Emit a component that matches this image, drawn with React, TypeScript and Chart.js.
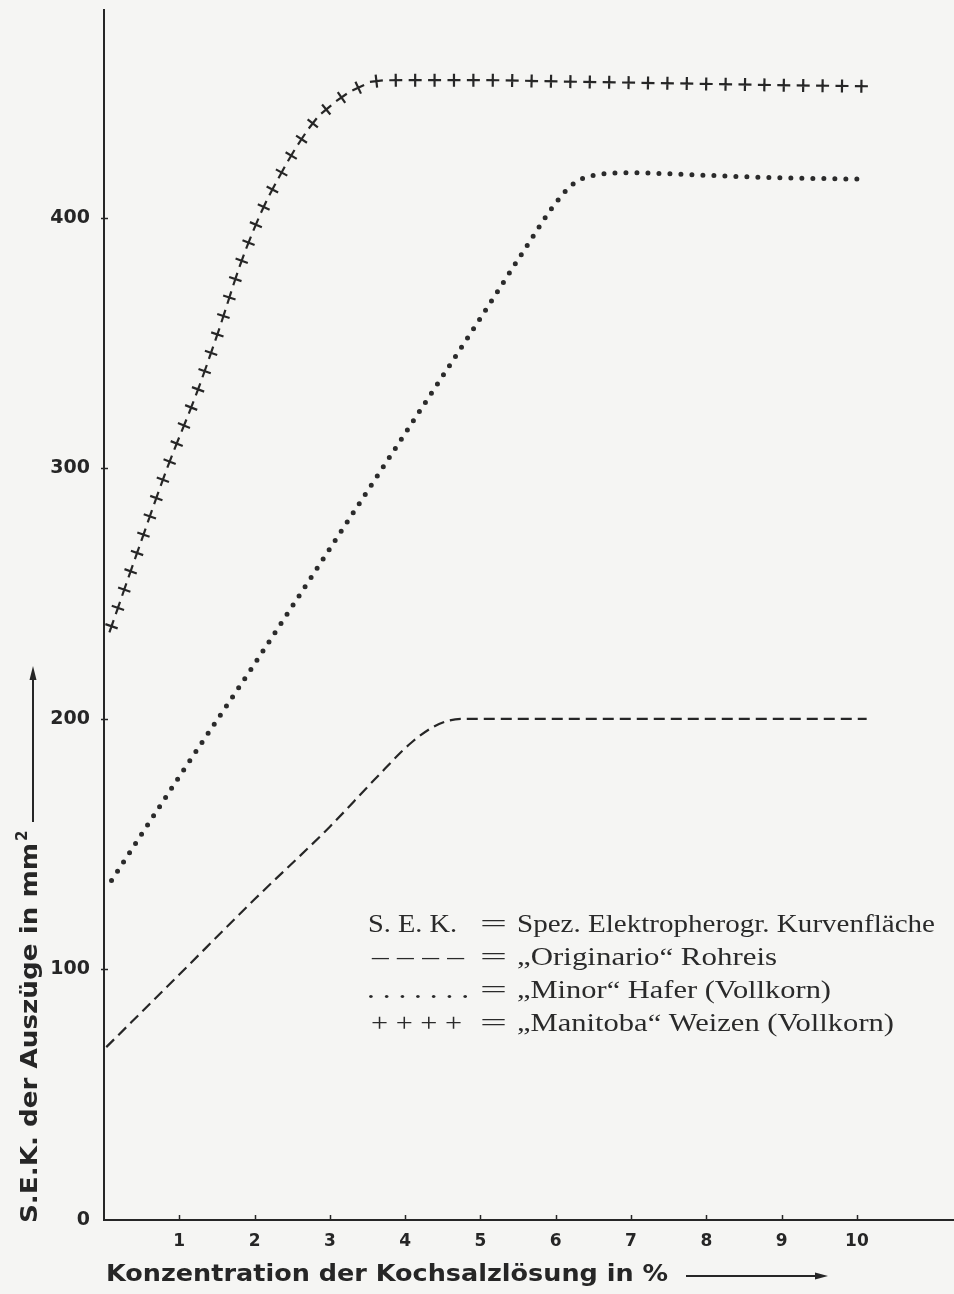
import React, { useEffect, useRef } from 'react';
import Chart from 'chart.js/auto';

// ---- data ----
const xTickLabels = ['1', '2', '3', '4', '5', '6', '7', '8', '9', '10'];
const yTickValues = [0, 100, 200, 300, 400];

const rohreisX = [0.03, 1, 2, 3, 3.6, 4.1, 4.45, 4.75, 6, 8, 10.13];
const rohreisY = [69, 98, 128, 157, 176, 191, 198, 200, 200, 200, 200];

const haferX = [0.1, 1, 2, 3, 4, 5, 5.6, 6.0, 6.25, 6.5, 7, 8, 9, 10.04];
const haferY = [135.5, 177, 222, 268, 314, 360, 388, 406, 414, 417, 418, 417, 416, 415.5];

const manitobaX = [0.1, 0.43, 0.85, 1.23, 1.5, 1.83, 2.1, 2.32, 2.55, 2.82, 3.0, 3.2, 3.4, 3.62, 4, 5, 6, 7, 8, 9, 10.06];
const manitobaY = [237, 265.5, 301, 330, 353, 383, 403, 416, 428, 439.5, 444.5, 449, 452.3, 454.6, 455, 455, 454.5, 454, 453.5, 453, 452.6];

const legendRows = [
  { key: 'S. E. K.', text: 'Spez. Elektropherogr. Kurvenfläche' },
  { key: '– – – –', text: '„Originario“ Rohreis' },
  { key: '. . . . . . .', text: '„Minor“ Hafer (Vollkorn)' },
  { key: '+ + + +', text: '„Manitoba“ Weizen (Vollkorn)' },
];

const xTitle = 'Konzentration der Kochsalzlösung in %';
const yTitle = 'S.E.K. der Auszüge in mm';
const yTitleSup = '2';

const INK = '#262626';
const BG = '#f5f5f3';

const toPoints = (xs: number[], ys: number[]) => xs.map((x, i) => ({ x, y: ys[i] }));

function fitText(ctx: any, text: string, x: number, y: number, targetW: number) {
  const w = ctx.measureText(text).width || 1;
  const s = targetW / w;
  ctx.save();
  ctx.translate(x, y);
  ctx.scale(s, 1);
  ctx.textAlign = 'left';
  ctx.fillText(text, 0, 0);
  ctx.restore();
}

const bgPlugin = {
  id: 'bg',
  beforeDraw(chart: any) {
    const ctx = chart.ctx;
    ctx.save();
    ctx.fillStyle = BG;
    ctx.fillRect(0, 0, chart.width, chart.height);
    ctx.restore();
  },
};

const plusPlugin = {
  id: 'plusMarkers',
  afterDatasetsDraw(chart: any) {
    const ctx = chart.ctx;
    chart.data.datasets.forEach((ds: any, di: number) => {
      if (!ds.plusMarker) return;
      const meta = chart.getDatasetMeta(di);
      const line = meta.dataset;
      if (line && line.updateControlPoints) line.updateControlPoints(chart.chartArea, 'x');
      const pts = meta.data;
      const samples: number[][] = [];
      for (let k = 0; k < pts.length - 1; k++) {
        const a = pts[k], b = pts[k + 1];
        const p0x = a.x, p0y = a.y, p3x = b.x, p3y = b.y;
        const p1x = a.cp2x ?? a.x, p1y = a.cp2y ?? a.y;
        const p2x = b.cp1x ?? b.x, p2y = b.cp1y ?? b.y;
        const N = 40;
        for (let j = k === 0 ? 0 : 1; j <= N; j++) {
          const t = j / N, u = 1 - t;
          const x = u * u * u * p0x + 3 * u * u * t * p1x + 3 * u * t * t * p2x + t * t * t * p3x;
          const y = u * u * u * p0y + 3 * u * u * t * p1y + 3 * u * t * t * p2y + t * t * t * p3y;
          samples.push([x, y]);
        }
      }
      let total = 0;
      for (let i = 0; i < samples.length - 1; i++) {
        total += Math.hypot(samples[i + 1][0] - samples[i][0], samples[i + 1][1] - samples[i][1]);
      }
      const nominal = ds.plusSpacing || 19.5;
      const spacing = total / Math.max(1, Math.round(total / nominal));
      const h = ds.plusHalf || 6;
      ctx.save();
      ctx.strokeStyle = ds.plusColor || INK;
      ctx.lineWidth = ds.plusWidth || 2;
      ctx.lineCap = 'butt';
      let acc = 0;
      let next = 0;
      for (let i = 0; i < samples.length - 1; i++) {
        const [x0, y0] = samples[i];
        const [x1, y1] = samples[i + 1];
        const dx = x1 - x0, dy = y1 - y0;
        const L = Math.hypot(dx, dy);
        if (L === 0) continue;
        while (next <= acc + L + 0.01) {
          const t = Math.min(1, (next - acc) / L);
          const px = x0 + dx * t, py = y0 + dy * t;
          const ang = Math.atan2(dy, dx);
          ctx.save();
          ctx.translate(px, py);
          ctx.rotate(ang);
          ctx.beginPath();
          ctx.moveTo(-h, 0);
          ctx.lineTo(h, 0);
          ctx.moveTo(0, -h);
          ctx.lineTo(0, h);
          ctx.stroke();
          ctx.restore();
          next += spacing;
        }
        acc += L;
      }
      ctx.restore();
    });
  },
};

const decorPlugin = {
  id: 'decor',
  afterDraw(chart: any) {
    const ctx = chart.ctx;
    const area = chart.chartArea;
    const xs = chart.scales.x;
    const ys = chart.scales.y;
    ctx.save();
    ctx.strokeStyle = INK;
    ctx.fillStyle = INK;

    // small tick marks
    ctx.lineWidth = 1.5;
    xTickLabels.forEach((lab) => {
      const px = Math.round(xs.getPixelForValue(Number(lab))) + 0.5;
      ctx.beginPath();
      ctx.moveTo(px, area.bottom);
      ctx.lineTo(px, area.bottom - 5);
      ctx.stroke();
    });
    yTickValues.forEach((v) => {
      if (v === 0) return;
      const py = Math.round(ys.getPixelForValue(v)) + 0.5;
      ctx.beginPath();
      ctx.moveTo(area.left - 3, py);
      ctx.lineTo(area.left + 4, py);
      ctx.stroke();
    });

    // x title
    ctx.font = 'bold 23px "DejaVu Sans"';
    ctx.textBaseline = 'alphabetic';
    const xTitleY = area.bottom + 61;
    fitText(ctx, xTitle, area.left + 2, xTitleY, 562);
    // x arrow
    ctx.lineWidth = 2;
    ctx.beginPath();
    ctx.moveTo(area.left + 582, xTitleY - 5);
    ctx.lineTo(area.left + 716, xTitleY - 5);
    ctx.stroke();
    ctx.beginPath();
    ctx.moveTo(area.left + 724, xTitleY - 5);
    ctx.lineTo(area.left + 711, xTitleY - 8.5);
    ctx.lineTo(area.left + 711, xTitleY - 1.5);
    ctx.closePath();
    ctx.fill();

    // y title (rotated)
    const yBase = area.bottom + 3;
    const yX = area.left - 67;
    ctx.save();
    ctx.translate(yX, yBase);
    ctx.rotate(-Math.PI / 2);
    ctx.font = 'bold 23px "DejaVu Sans"';
    fitText(ctx, yTitle, 0, 0, 380);
    ctx.font = 'bold 15px "DejaVu Sans"';
    ctx.fillText(yTitleSup, 382, -10);
    ctx.restore();
    // y arrow
    ctx.lineWidth = 2;
    ctx.beginPath();
    ctx.moveTo(yX - 4, area.bottom - 398);
    ctx.lineTo(yX - 4, area.bottom - 540);
    ctx.stroke();
    ctx.beginPath();
    ctx.moveTo(yX - 4, area.bottom - 554);
    ctx.lineTo(yX - 7.5, area.bottom - 540);
    ctx.lineTo(yX - 0.5, area.bottom - 540);
    ctx.closePath();
    ctx.fill();

    // legend text block
    ctx.font = '25px "Liberation Serif"';
    ctx.fillStyle = '#2a2a2a';
    const keyWidths = [89, 92, 102, 91];
    const keyX = [368, 372, 367, 371];
    const textWidths = [418, 260, 314, 377];
    legendRows.forEach((row, i) => {
      const base = 932 + i * 33;
      fitText(ctx, row.key, keyX[i], base, keyWidths[i]);
      fitText(ctx, '=', 480, base, 27);
      fitText(ctx, row.text, 517, base, textWidths[i]);
    });
    ctx.restore();
  },
};

export default function App() {
  const ref = useRef<HTMLCanvasElement>(null);
  useEffect(() => {
    if (!ref.current) return;
    const chart = new Chart(ref.current, {
      type: 'line',
      data: {
        datasets: [
          {
            label: '„Originario“ Rohreis',
            data: toPoints(rohreisX, rohreisY),
            borderColor: INK,
            borderWidth: 2.2,
            borderDash: [11, 6],
            pointRadius: 0,
            cubicInterpolationMode: 'monotone',
            fill: false,
          },
          {
            label: '„Minor“ Hafer (Vollkorn)',
            data: toPoints(haferX, haferY),
            borderColor: '#2b2b2b',
            borderWidth: 5,
            borderDash: [0, 11],
            borderCapStyle: 'round',
            pointRadius: 0,
            cubicInterpolationMode: 'monotone',
            fill: false,
          },
          {
            label: '„Manitoba“ Weizen (Vollkorn)',
            data: toPoints(manitobaX, manitobaY),
            borderColor: 'rgba(0,0,0,0)',
            borderWidth: 1,
            pointRadius: 0,
            cubicInterpolationMode: 'monotone',
            fill: false,
            plusMarker: true,
            plusSpacing: 19.5,
            plusHalf: 6.5,
            plusWidth: 2.2,
          } as any,
        ],
      },
      options: {
        responsive: false,
        devicePixelRatio: 1,
        animation: false,
        layout: { padding: { top: 10, right: 0, left: 0, bottom: 0 } },
        plugins: { legend: { display: false }, tooltip: { enabled: false }, title: { display: false } },
        scales: {
          x: {
            type: 'linear',
            min: 0,
            max: 11.29,
            afterFit: (s: any) => { s.height = 74; s.paddingLeft = 0; s.paddingRight = 0; },
            grid: { display: true, drawOnChartArea: false, drawTicks: false },
            border: { display: true, color: INK, width: 2 },
            ticks: {
              stepSize: 1,
              includeBounds: false,
              autoSkip: false,
              maxRotation: 0,
              padding: 11,
              color: INK,
              font: { family: 'DejaVu Sans', size: 17, weight: 'bold' },
              callback: (v: any) => (xTickLabels.includes(String(v)) ? String(v) : ''),
            },
          },
          y: {
            type: 'linear',
            min: 0,
            max: 483,
            afterFit: (s: any) => { s.width = 104; s.paddingTop = 0; s.paddingBottom = 0; },
            grid: { display: true, drawOnChartArea: false, drawTicks: false },
            border: { display: true, color: INK, width: 2 },
            ticks: {
              stepSize: 100,
              includeBounds: false,
              padding: 14,
              color: INK,
              font: { family: 'DejaVu Sans', size: 19, weight: 'bold' },
              callback: (v: any) => (yTickValues.includes(Number(v)) ? String(v) : ''),
            },
          },
        },
      } as any,
      plugins: [bgPlugin, plusPlugin, decorPlugin],
    });
    return () => chart.destroy();
  }, []);
  return (
    <div style={{ position: 'absolute', left: 0, top: 0, width: 954, height: 1294, background: BG }}>
      <canvas ref={ref} width={954} height={1294} style={{ display: 'block', width: 954, height: 1294 }} />
    </div>
  );
}
